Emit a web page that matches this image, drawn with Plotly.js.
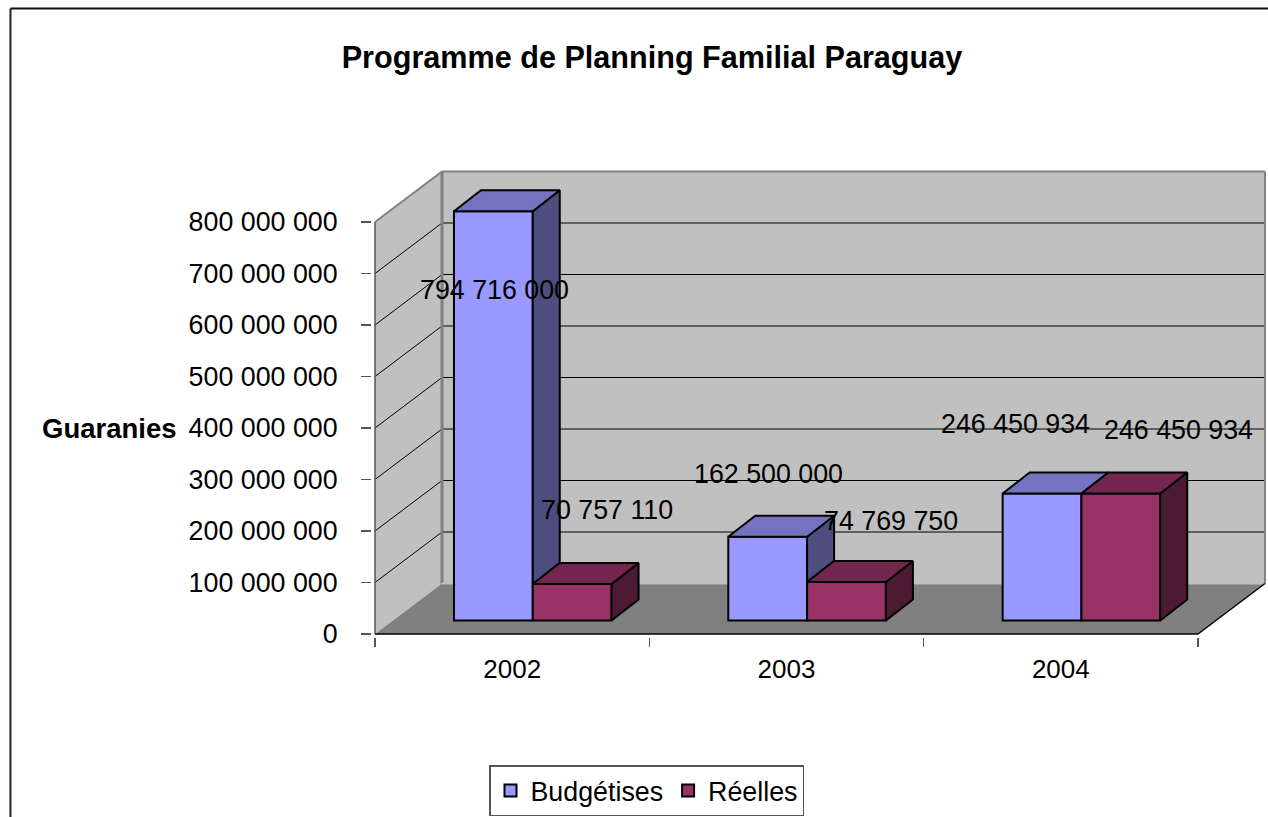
<!DOCTYPE html>
<html><head><meta charset="utf-8">
<script src="https://cdn.plot.ly/plotly-3.0.1.min.js"></script>
<style>html,body{margin:0;padding:0;background:#fff;overflow:hidden}#c{width:1268px;height:817px}</style>
</head><body><div id="c"></div>
<script>
// ---- data ----
const categories = ['2002', '2003', '2004'];
const budgetes = [794716000, 162500000, 246450934];
const reelles = [70757110, 74769750, 246450934];
const seriesNames = ['Budgétises', 'Réelles'];
const yTickValues = [0,100000000,200000000,300000000,400000000,500000000,600000000,700000000,800000000];
const yTickLabels = ['0','100 000 000','200 000 000','300 000 000','400 000 000','500 000 000','600 000 000','700 000 000','800 000 000'];
const dataLabels = ['794 716 000','162 500 000','246 450 934','70 757 110','74 769 750','246 450 934'];

// ---- style and projection constants ----
const FONT = 'Liberation Sans, Arial, sans-serif';
const WALL = '#C0C0C0', FLOOR = '#808080', EDGE = '#808080', DARK = '#000000';
const BLUE = ['#9999FF', '#7373BF', '#4D4D80'];
const RED = ['#993366', '#732650', '#4D1A33'];
const pxPerCat = 274.33, pxPerVal = 0.515 / 1e6;
const ux = p => p / pxPerCat, uy = p => p / pxPerVal;
const wallDx = ux(67), wallDy = uy(50.5);
const liftX = ux(20.6), liftY = uy(13.5);
const barW = ux(78.8), barDx = ux(27), barDy = uy(21);
const groupW = 2 * barW;
const nCat = categories.length;
const topTick = yTickValues[yTickValues.length - 1];

const centers = categories.map((c, i) => i + 0.5 + liftX);
const lifts = categories.map(() => liftY);

function polys(list) {
  const xs = [], ys = [];
  list.forEach(p => { p.forEach(q => { xs.push(q[0]); ys.push(q[1]); }); xs.push(p[0][0]); ys.push(p[0][1]); xs.push(null); ys.push(null); });
  return {x: xs, y: ys};
}
function face(list, color) {
  const d = polys(list);
  return {type:'scatter', mode:'lines', x:d.x, y:d.y, fill:'toself', fillcolor:color,
    line:{color:DARK, width:2, simplify:false}, showlegend:false, hoverinfo:'skip', cliponaxis:false};
}
function bar(values, name, colors) {
  return {type:'bar', name:name, x:centers, y:values, base:lifts,
    marker:{color:colors[0], line:{color:DARK, width:2}}, hoverinfo:'name+y'};
}
function topFaces(values, side) {
  return values.map((v, i) => {
    const x0 = centers[i] + (side < 0 ? -barW : 0), x1 = x0 + barW, y = v + liftY;
    return [[x0,y],[x1,y],[x1+barDx,y+barDy],[x0+barDx,y+barDy]];
  });
}
function sideFaces(values, side, front) {
  return values.map((v, i) => {
    const x = centers[i] + (side < 0 ? 0 : barW), y = v + liftY;
    // the part of a bar's side hidden by its neighbour is not drawn
    const b = front ? front[i] + liftY : liftY;
    if (b >= y) return null;
    return [[x,b],[x,y],[x+barDx,y+barDy],[x+barDx,b+barDy]];
  }).filter(Boolean);
}

const traces = [
  bar(budgetes, seriesNames[0], BLUE),
  bar(reelles, seriesNames[1], RED),
  face(sideFaces(budgetes, -1, reelles), BLUE[2]),
  face(topFaces(budgetes, -1), BLUE[1]),
  face(sideFaces(reelles, 1), RED[2]),
  face(topFaces(reelles, 1), RED[1])
];

// ---- walls, floor, grid ----
const shapes = [];
const seg = (x0,y0,x1,y1,color,width) => shapes.push({type:'line',layer:'below',xref:'x',yref:'y',x0,y0,x1,y1,line:{color,width}});
const path = (pts,fill) => shapes.push({type:'path',layer:'below',xref:'x',yref:'y',
  path:'M'+pts.map(p=>p[0]+','+p[1]).join(' L')+' Z',fillcolor:fill,line:{width:0}});
const wallTop = topTick + wallDy;
path([[0,0],[wallDx,wallDy],[wallDx,wallTop],[0,topTick]], WALL);
path([[wallDx,wallDy],[nCat+wallDx,wallDy],[nCat+wallDx,wallTop],[wallDx,wallTop]], WALL);
path([[0,0],[nCat,0],[nCat+wallDx,wallDy],[wallDx,wallDy]], FLOOR);
yTickValues.slice(1, -1).forEach(v => {
  seg(0,v,wallDx,v+wallDy,DARK,1);
  seg(wallDx,v+wallDy,nCat+wallDx,v+wallDy,DARK,1);
});
seg(0,topTick,wallDx,wallTop,EDGE,2);
seg(wallDx,wallTop,nCat+wallDx,wallTop,EDGE,2);
seg(wallDx,wallDy,wallDx,wallTop,EDGE,3);
seg(nCat+wallDx,wallDy,nCat+wallDx,wallTop,EDGE,2);
seg(wallDx,wallDy,nCat+wallDx,wallDy,WALL,2);
seg(0,0,0,topTick,'#555555',1.5);
seg(0,0,nCat,0,DARK,1.5);
seg(nCat,0,nCat+wallDx,wallDy,DARK,1.5);
// chart frame (open at right and bottom, as in the picture)
shapes.push({type:'line',xref:'paper',yref:'paper',x0:-0.4035,x1:-0.4035,y0:1.34,y1:-0.39,line:{color:'#222',width:2}});
shapes.push({type:'line',xref:'paper',yref:'paper',x0:-0.4035,x1:1.01,y0:1.34,y1:1.34,line:{color:'#111',width:2}});

// ---- data labels: hand-placed as in the picture (px right, px up from bar top) ----
const labelShift = [[1,-79],[1,63],[-27,70],[35,74],[45,61],[58,64]];
const labelVals = budgetes.concat(reelles);
const annotations = labelVals.map((v, i) => {
  const k = i % nCat, isB = i < nCat;
  return {xref:'x',yref:'y',x:centers[k] + (isB ? -barW/2 : barW/2), y:v + liftY,
    text:dataLabels[i], showarrow:false, xanchor:'center', yanchor:'middle',
    xshift:labelShift[i][0], yshift:labelShift[i][1],
    font:{family:FONT,size:26.8,color:'#000'}};
});
annotations.push({xref:'paper',yref:'paper',x:(109-372)/896,y:(637-428)/469,text:'<b>Guaranies</b>',showarrow:false,
  xanchor:'center',yanchor:'middle',font:{family:FONT,size:27.5,color:'#000'}});

const layout = {
  width:1268, height:817, paper_bgcolor:'#fff', plot_bgcolor:'rgba(0,0,0,0)',
  margin:{l:372,r:0,t:168,b:180,autoexpand:false},
  font:{family:FONT,size:26,color:'#000'},
  title:{text:'<b>Programme de Planning Familial Paraguay</b>',font:{family:FONT,size:30.6,color:'#000'},
    x:652/1268,xref:'container',xanchor:'center',y:1-57/817,yref:'container',yanchor:'middle'},
  barmode:'group', bargap:1-groupW, bargroupgap:0,
  xaxis:{type:'linear',range:[ux(-3),ux(893)],showgrid:false,zeroline:false,showline:false,
    tickmode:'array',tickvals:centers.map((c,i)=>i+0.5),ticktext:categories,ticks:'',
    ticklabelstandoff:14,tickfont:{family:FONT,size:26},
    minor:{tickmode:'array',tickvals:[0,1,2,3],ticks:'outside',ticklen:9,tickcolor:'#555',tickwidth:1.5,showgrid:false}},
  yaxis:{range:[uy(-3),uy(466)],showgrid:false,zeroline:false,showline:false,
    tickmode:'array',tickvals:yTickValues,ticktext:yTickLabels,ticks:'outside',ticklen:10,tickcolor:'#555',tickwidth:1.5,
    ticklabelstandoff:18,tickfont:{family:FONT,size:26.8}},
  showlegend:true,
  legend:{orientation:'h',x:(489-372)/896,y:(637-765)/469,xanchor:'left',yanchor:'top',bgcolor:'#fff',
    bordercolor:'#555',borderwidth:1.5,font:{family:FONT,size:26.8},traceorder:'normal',itemclick:false,itemdoubleclick:false},
  shapes, annotations
};
Plotly.newPlot('c', traces, layout, {displayModeBar:false, staticPlot:true});
</script></body></html>
